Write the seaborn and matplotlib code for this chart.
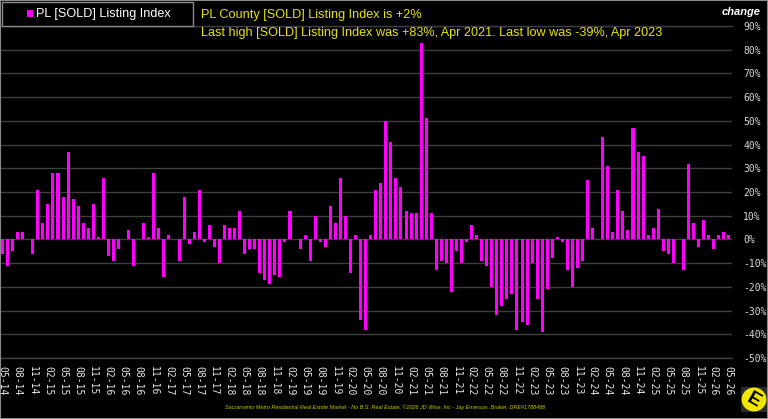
import matplotlib
matplotlib.use("Agg")
import matplotlib.pyplot as plt
from matplotlib.patches import Rectangle, Circle
import pandas as pd
import seaborn as sns

# monthly labels, 05-14 .. 05-26
months = [d.strftime("%m-%y") for d in pd.date_range("2014-05-01", "2026-05-01", freq="MS")]

# [SOLD] listing index, % change
listing_index = [
    -6, -11, -5, 3, 3, 0, -6, 21, 7, 15, 28, 28, 18, 37, 17, 14, 7, 5, 15, 1,
    26, -7, -9, -4, 0, 4, -11, 0, 7, 1, 28, 5, -16, 2, 0, -9, 18, -2, 3, 21,
    -1, 6, -3, -10, 6, 5, 5, 12, -6, -4, -4, -14, -17, -19, -15, -16, -1, 12, 0, -4,
    2, -9, 10, -1, -3, 14, 7, 26, 10, -14, 2, -34, -38, 2, 21, 24, 50, 41, 26, 22,
    12, 11, 11, 83, 51, 11, -13, -9, -10, -22, -5, -10, -1, 6, 2, -9, -11, -20, -32, -28,
    -25, -23, -38, -35, -36, -10, -25, -39, -21, -8, 1, -1, -13, -20, -12, -9, 25, 5, 0, 43,
    31, 3, 21, 12, 4, 47, 37, 35, 2, 5, 13, -5, -6, -10, 0, -13, 32, 7, -3, 8,
    2, -4, 2, 3, 2,
]
y_ticks = list(range(-50, 91, 10))

title_1 = "PL County [SOLD] Listing Index is +2%"
title_2 = "Last high [SOLD] Listing Index was +83%, Apr 2021. Last low was -39%, Apr 2023"
footer = ("Sacramento Metro Residential Real Estate Market - No B.S. Real Estate, "
          "\u00a92026 JD Wise, Inc - Jay Emerson, Broker, DRE#1788488")

sns.set_style("dark", {"axes.facecolor": "black", "figure.facecolor": "black"})
plt.rcParams["font.family"] = ["Liberation Sans", "DejaVu Sans"]

W, H = 768, 419
fig = plt.figure(figsize=(W / 100, H / 100), dpi=100, facecolor="black")
ax = fig.add_axes([1 / W, 1 - 358 / H, 731 / W, 332 / H])
ax.set_facecolor("black")

frame = pd.DataFrame({"month": months, "value": listing_index})
sns.barplot(data=frame, x="month", y="value", color="#ff00ff", saturation=1,
            width=0.6, linewidth=0, ax=ax)

ax.set_xlim(-0.3, 144.63)
ax.set_ylim(-50, 90)
ax.set_xlabel("")
ax.set_ylabel("")

# x ticks every 3 months, rotated
ax.set_xticks(range(0, len(months), 3))
ax.set_xticklabels(months[::3], rotation=270, family="DejaVu Sans Mono",
                   fontsize=7, color="#e6e6e6", va="top", ha="center")
ax.tick_params(axis="x", length=0, pad=6)

# y ticks on the right
ax.yaxis.tick_right()
ax.set_yticks(y_ticks)
ax.set_yticklabels(["{}%".format(v) for v in y_ticks], family="DejaVu Sans Mono",
                   fontsize=7, color="#d8d8d8")
ax.tick_params(axis="y", length=0, pad=8)

ax.yaxis.grid(True, color="#3e3e3e", linewidth=1)
ax.xaxis.grid(False)
ax.set_axisbelow(True)
for side in ["left", "right"]:
    ax.spines[side].set_visible(False)
for side in ["top", "bottom"]:
    ax.spines[side].set_color("#3e3e3e")
    ax.spines[side].set_linewidth(1)

# figure border
fig.patches.append(Rectangle((0, 0), 1, 1, transform=fig.transFigure, fill=False,
                             edgecolor="#8a8a8a", linewidth=1.5))

# legend box
fig.patches.append(Rectangle((2 / W, 1 - 26 / H), 191 / W, 24 / H, transform=fig.transFigure,
                             facecolor="black", edgecolor="#8a8a8a", linewidth=1))
fig.patches.append(Rectangle((27 / W, 1 - 17 / H), 6 / W, 7 / H, transform=fig.transFigure,
                             facecolor="#ff00ff", edgecolor="none"))
fig.text(36 / W, 1 - 14 / H, "PL [SOLD] Listing Index", color="white", fontsize=9.1,
         va="center", ha="left")

# headline text
fig.text(201 / W, 1 - 15 / H, title_1, color="#e6e600", fontsize=9.1, va="center", ha="left")
fig.text(201 / W, 1 - 33 / H, title_2, color="#e6e600", fontsize=9.1, va="center", ha="left")

fig.text(761 / W, 1 - 12 / H, "change", color="white", fontsize=8, fontweight="bold",
         fontstyle="italic", va="center", ha="right")

fig.text(385 / W, 1 - 407 / H, footer, color="#c8c800", fontsize=4, fontstyle="italic",
         va="center", ha="center")

# logo
logo = fig.add_axes([741 / W, 1 - 412 / H, 26 / W, 25 / H])
logo.set_facecolor("#2b2b2b")
logo.set_xlim(0, 1)
logo.set_ylim(0, 1)
logo.set_xticks([])
logo.set_yticks([])
for s in logo.spines.values():
    s.set_visible(False)
logo.add_patch(Circle((0.5, 0.5), 0.45, color="#f2e600"))
logo.text(0.5, 0.48, "E", color="black", fontsize=14, fontweight="bold",
          ha="center", va="center", rotation=-30)

fig.savefig("out.png", dpi=100, facecolor="black")
